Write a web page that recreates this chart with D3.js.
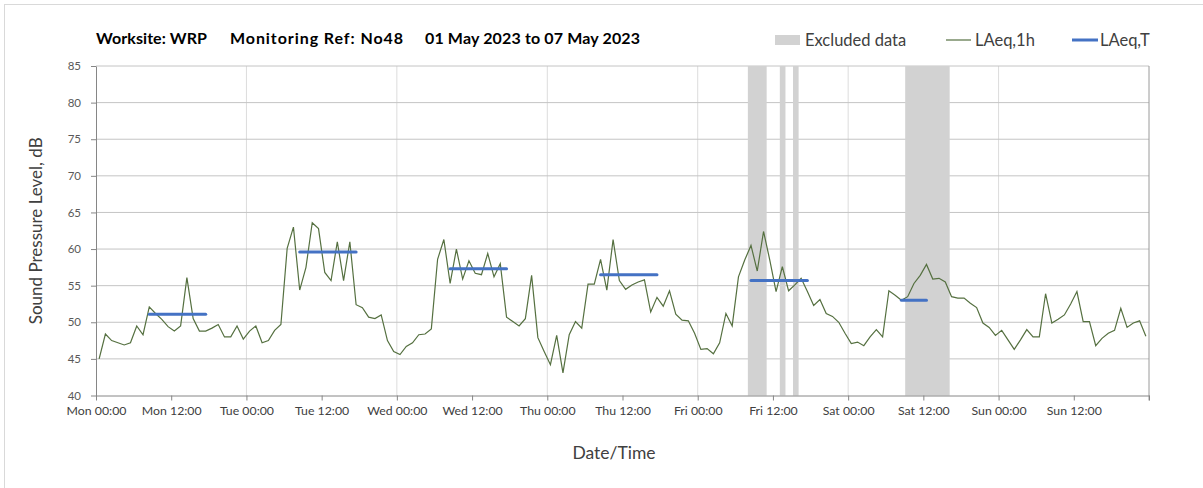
<!DOCTYPE html>
<html>
<head>
<meta charset="utf-8">
<script src="https://cdn.jsdelivr.net/npm/d3@7"></script>
<style>
  body { margin: 0; background: #fff; }
  text { font-family: Lato, "Open Sans", sans-serif; }
</style>
</head>
<body>
<div id="chart"></div>
<script>
// hourly LAeq,1h values, Mon 00:00 .. Sun 23:00
const laeq1h = [
  45.0, 48.4, 47.5, 47.2, 46.9, 47.2, 49.5, 48.3, 52.1, 51.2, 50.4, 49.4,
  48.8, 49.5, 56.1, 50.5, 48.8, 48.8, 49.2, 49.7, 48.0, 48.0, 49.5, 47.7,
  48.8, 49.5, 47.2, 47.5, 48.9, 49.7, 60.1, 63.0, 54.4, 57.5, 63.6, 62.8,
  56.8, 55.7, 61.0, 55.7, 61.0, 52.4, 52.0, 50.7, 50.5, 51.0, 47.5, 46.0,
  45.6, 46.7, 47.2, 48.3, 48.4, 49.1, 58.6, 61.3, 55.3, 60.0, 55.9, 58.4,
  56.7, 56.5, 59.4, 56.2, 58.0, 50.7, 50.1, 49.5, 50.5, 56.4, 47.9, 46.0,
  44.2, 48.2, 43.1, 48.3, 50.1, 49.2, 55.2, 55.2, 58.6, 54.4, 61.3, 55.7,
  54.5, 55.1, 55.5, 55.8, 51.4, 53.4, 52.2, 54.3, 51.1, 50.3, 50.2, 48.5,
  46.3, 46.4, 45.7, 47.2, 51.2, 49.5, 56.2, 58.5, 60.5, 57.0, 62.4, 58.5,
  54.2, 57.6, 54.3, 55.1, 56.0, 54.2, 52.3, 53.1, 51.2, 50.8, 50.0, 48.5,
  47.1, 47.3, 46.8, 48.0, 49.0, 48.0, 54.3, 53.7, 53.0, 53.5, 55.3, 56.4,
  57.9, 55.9, 56.0, 55.5, 53.5, 53.3, 53.3, 52.6, 52.0, 49.9, 49.3, 48.2,
  48.9, 47.6, 46.3, 47.6, 49.0, 48.0, 48.0, 53.9, 49.9, 50.4, 51.0, 52.5,
  54.2, 50.1, 50.1, 46.8, 47.8, 48.5, 48.9, 51.9, 49.3, 49.9, 50.2, 48.1
]

// LAeq,T periods (day index, start hour, end hour, level)
const periodDay   = [0, 1, 2, 3, 4, 5]
const periodStart = [8, 8, 8, 8, 8, 8]
const periodEnd   = [18, 18, 18, 18, 18, 13]
const periodLevel = [51.1, 59.6, 57.3, 56.5, 55.7, 53.0]

// excluded data windows, hours from Mon 00:00
const excludedStart = [104.0, 109.1, 111.2, 129.1]
const excludedEnd   = [107.0, 110.0, 112.1, 136.2]

const days = ["Mon", "Tue", "Wed", "Thu", "Fri", "Sat", "Sun"]
const tickHours = d3.range(0, 169, 12)
const yTicks = d3.range(40, 86, 5)

const WD = 1203, HT = 488
const margin = { left: 96, right: 54, top: 66, bottom: 92.5 }
const width = WD - margin.left - margin.right
const height = HT - margin.top - margin.bottom

var svg = d3.select("#chart").append("svg")
    .attr("width", WD)
    .attr("height", HT)

// outer chart border
svg.append("rect")
    .attr("x", 4.5).attr("y", 4.5)
    .attr("width", WD + 20).attr("height", HT + 20)
    .attr("fill", "none")
    .attr("stroke", "#d9d9d9")

const xs = d3.scaleLinear().domain([0, 168]).range([margin.left, margin.left + width])
const ys = d3.scaleLinear().domain([40, 85]).range([margin.top + height, margin.top])

// vertical gridlines at midnight
svg.append("g").selectAll("line")
    .data(d3.range(24, 168, 24))
    .enter().append("line")
        .attr("x1", d => xs(d)).attr("x2", d => xs(d))
        .attr("y1", ys(85)).attr("y2", ys(40))
        .attr("stroke", "#dcdcdc")

// horizontal gridlines
svg.append("g").selectAll("line")
    .data(yTicks.slice(1))
    .enter().append("line")
        .attr("x1", xs(0)).attr("x2", xs(168))
        .attr("y1", d => ys(d)).attr("y2", d => ys(d))
        .attr("stroke", "#c4c4c4")

// excluded data bands
svg.append("g").selectAll("rect")
    .data(excludedStart)
    .enter().append("rect")
        .attr("x", d => xs(d))
        .attr("y", ys(85))
        .attr("width", (d, i) => xs(excludedEnd[i]) - xs(d))
        .attr("height", ys(40) - ys(85))
        .attr("fill", "#d2d2d2")

// right edge
svg.append("line")
    .attr("x1", xs(168)).attr("x2", xs(168))
    .attr("y1", ys(85)).attr("y2", ys(40) + 5)
    .attr("stroke", "#9a9a9a")

// axes
const yAxis = svg.append("g")
    .attr("transform", "translate(" + xs(0) + ",0)")
    .call(d3.axisLeft(ys).tickValues(yTicks).tickSize(5).tickSizeOuter(0).tickPadding(10))
yAxis.select(".domain").attr("stroke", "#868686")
yAxis.selectAll(".tick line").attr("stroke", "#868686")
yAxis.selectAll(".tick text")
    .attr("font-size", "11.5px")
    .attr("fill", "#595959")
    .style("font-family", "Lato")

const xAxis = svg.append("g")
    .attr("transform", "translate(0," + ys(40) + ")")
    .call(d3.axisBottom(xs).tickValues(tickHours).tickSize(5).tickSizeOuter(0).tickPadding(6)
        .tickFormat(h => h >= 168 ? "" : days[Math.floor(h / 24)] + (h % 24 == 0 ? " 00:00" : " 12:00")))
xAxis.select(".domain").attr("stroke", "#868686")
xAxis.selectAll(".tick line").attr("stroke", "#868686")
xAxis.selectAll(".tick text")
    .attr("font-size", "12.3px")
    .attr("fill", "#404040")
    .style("font-family", "Lato")

// LAeq,1h line
const line = d3.line()
    .x((d, i) => xs(i + 0.5))
    .y(d => ys(d))

svg.append("path")
    .datum(laeq1h)
    .attr("d", line)
    .attr("fill", "none")
    .attr("stroke", "#557040")
    .attr("stroke-width", 1.2)

// LAeq,T segments
svg.append("g").selectAll("line")
    .data(periodLevel)
    .enter().append("line")
        .attr("x1", (d, i) => xs(periodDay[i] * 24 + periodStart[i] + 0.5))
        .attr("x2", (d, i) => xs(periodDay[i] * 24 + periodEnd[i] - 0.5))
        .attr("y1", d => ys(d)).attr("y2", d => ys(d))
        .attr("stroke", "#4472c4")
        .attr("stroke-width", 3)
        .attr("stroke-linecap", "round")

// title
const titleParts = ["Worksite: WRP", "Monitoring Ref: No48", "01 May 2023 to 07 May 2023"]
const titleX = [96, 230, 425]
const titleW = [111, 173, 215]
svg.append("g").selectAll("text")
    .data(titleParts)
    .enter().append("text")
        .attr("x", (d, i) => titleX[i])
        .attr("y", 44)
        .attr("font-size", "16px")
        .attr("font-weight", "bold")
        .attr("fill", "#000")
        .attr("textLength", (d, i) => titleW[i])
        .attr("lengthAdjust", "spacing")
        .text(d => d)

// legend
const lg = svg.append("g").attr("font-size", "16.5px").attr("fill", "#404040")
lg.append("rect").attr("x", 775).attr("y", 35).attr("width", 25).attr("height", 10).attr("fill", "#d2d2d2")
lg.append("text").attr("x", 805).attr("y", 46).text("Excluded data")
lg.append("line").attr("x1", 946).attr("x2", 971).attr("y1", 40).attr("y2", 40)
    .attr("stroke", "#557040").attr("stroke-width", 1.2)
lg.append("text").attr("x", 975).attr("y", 46).text("LAeq,1h")
lg.append("line").attr("x1", 1072).attr("x2", 1098).attr("y1", 40).attr("y2", 40)
    .attr("stroke", "#4472c4").attr("stroke-width", 3)
lg.append("text").attr("x", 1100).attr("y", 46).text("LAeq,T")

// axis titles
svg.append("text")
    .attr("x", 614).attr("y", 459)
    .attr("text-anchor", "middle")
    .attr("font-size", "17.5px")
    .attr("fill", "#404040")
    .text("Date/Time")

svg.append("text")
    .attr("transform", "translate(42," + (ys(62.5)) + ") rotate(-90)")
    .attr("text-anchor", "middle")
    .attr("font-size", "17px")
    .attr("fill", "#404040")
    .text("Sound Pressure Level, dB")
</script>
</body>
</html>
